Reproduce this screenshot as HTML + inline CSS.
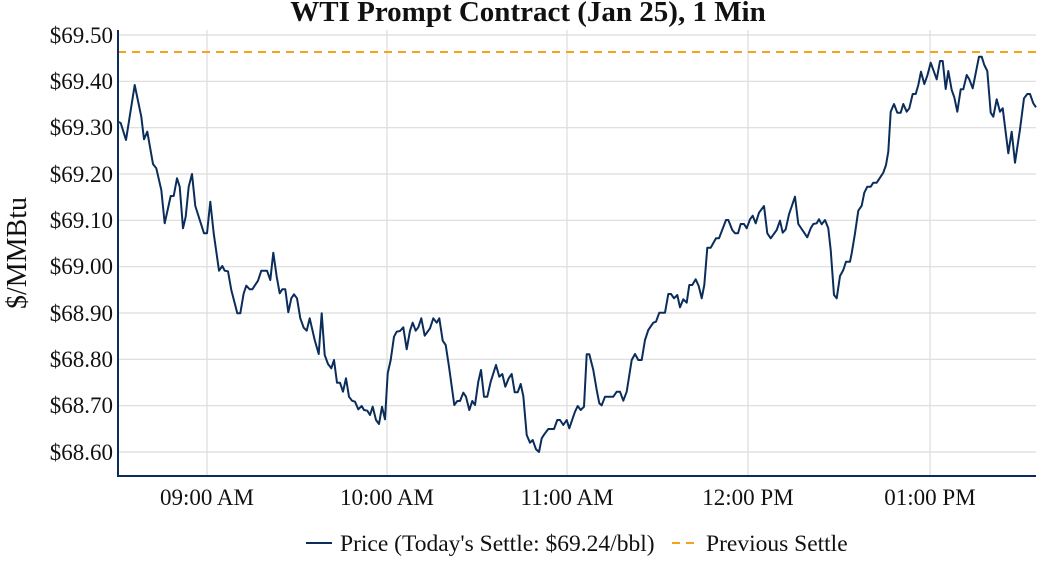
<!DOCTYPE html>
<html><head><meta charset="utf-8"><style>
html,body{margin:0;padding:0;background:#fff;}
svg text{font-family:"Liberation Serif",serif;fill:#111;}
</style></head><body>
<svg width="1056" height="576" viewBox="0 0 1056 576" xmlns="http://www.w3.org/2000/svg">
<text x="528" y="21" font-size="29" font-weight="bold" text-anchor="middle">WTI Prompt Contract (Jan 25), 1 Min</text>
<g stroke="#dcdcdc" stroke-width="1.2">
<line x1="118" x2="1036" y1="35" y2="35"/><line x1="118" x2="1036" y1="81.3" y2="81.3"/>
<line x1="118" x2="1036" y1="127.7" y2="127.7"/><line x1="118" x2="1036" y1="174" y2="174"/>
<line x1="118" x2="1036" y1="220.3" y2="220.3"/><line x1="118" x2="1036" y1="266.7" y2="266.7"/>
<line x1="118" x2="1036" y1="313" y2="313"/><line x1="118" x2="1036" y1="359.3" y2="359.3"/>
<line x1="118" x2="1036" y1="405.7" y2="405.7"/><line x1="118" x2="1036" y1="452" y2="452"/>
<line x1="207" x2="207" y1="30" y2="476"/><line x1="387" x2="387" y1="30" y2="476"/>
<line x1="567" x2="567" y1="30" y2="476"/><line x1="748" x2="748" y1="30" y2="476"/>
<line x1="930" x2="930" y1="30" y2="476"/>
</g>
<g font-size="23" text-anchor="end">
<text x="113" y="43">$69.50</text><text x="113" y="89">$69.40</text><text x="113" y="135">$69.30</text>
<text x="113" y="182">$69.20</text><text x="113" y="228">$69.10</text><text x="113" y="274">$69.00</text>
<text x="113" y="321">$68.90</text><text x="113" y="367">$68.80</text><text x="113" y="413">$68.70</text>
<text x="113" y="460">$68.60</text>
</g>
<text transform="translate(26,253) rotate(-90)" font-size="28" text-anchor="middle">$/MMBtu</text>
<g font-size="23" text-anchor="middle">
<text x="207" y="505">09:00 AM</text><text x="387" y="505">10:00 AM</text><text x="567" y="505">11:00 AM</text>
<text x="748" y="505">12:00 PM</text><text x="930" y="505">01:00 PM</text>
</g>
<line x1="118" x2="1036" y1="52" y2="52" stroke="#f5a31a" stroke-width="2" stroke-dasharray="8,6"/>
<polyline fill="none" stroke="#0b2d5b" stroke-width="2" stroke-linejoin="round" points="
118,121.7 120.7,123 126,140 134.7,85 141.3,116.7 144,139.3 147.3,131.7 153,164 156.3,168.3 161.3,190 164.7,223.3 170.7,196 173.7,196 177,178.3 179.7,186.7 183,228.3 185.7,216.7 188.7,186.7 192,174 195.3,206 204,233.3 207,233.3 210.3,201.7 213.7,233.3 219,270.7 222.3,266 224.7,270.7 228,271.3 231.3,290 237.3,313.3 240.3,313.3 243.7,293.3 246.3,285.7 249.7,289.3 252.3,289.3 258,280.7 261.3,270.7 267,270.7 270.3,280 273.3,252.7 276.7,276.7 279.7,293.3 282.3,289.3 285.3,289.3 288.3,312.3 291.3,298.3 294,294.3 297,298.3 300.3,318.3 303.7,327.7 306.7,330.7 309.7,318.3 314.7,340 318.7,354 321.7,313.3 324.7,355 328,364 331.3,368.3 334,360 337,382.7 340,382.7 343,391.7 346,378.3 349,396.7 352,400.7 355,401.7 358.3,409.3 361.7,406 364,410 367.3,410.7 370,415 372.7,406.7 376,420 379,424 382,406.7 385,419.3 387.7,373.3 390.7,360 394,336.7 396.7,331.7 400,331 403.3,327.3 406.7,349.3 410,330.7 412.7,322.7 415.7,330.7 418.3,327.3 421.3,318.3 424.7,335.7 430,328.3 433.3,318.3 436.7,322.7 439.3,318.3 442.7,340.7 445.7,345 449,366.7 454.3,405 457.3,401 460,401 463.3,392.7 466,396.7 469.3,410 472.3,401 475,405 478.3,381.7 481,370 484,396.7 487.3,396.7 490.7,381.7 496,365 499.3,376.7 502.3,374 505.3,386.7 508.7,378.3 511.7,374 514.7,392.3 517.7,392.3 520.7,384 523.3,396 526.7,435 530,442.7 532.7,440 536,449.3 539,452 541.7,438.3 544.3,434.3 548.3,429 554,429 557.3,420 560,420 563.3,425 566.7,420 569.3,428.3 572.7,418.3 575,411.7 577.7,406 580.7,410 584,406.7 586.7,354.3 589.3,354.3 593.3,370 596.7,390 599.3,403.3 601.7,405.3 605,396.7 613.3,396.7 616.7,391.7 620,391.7 623.3,400.7 626.7,391.7 631.7,360 635,354 638.3,360 641.7,360 645,340 648.3,330 653.3,322.7 656,321.7 659.3,312.7 665,312.7 668.3,294 671,294 674,298.3 677.3,295 680,307.3 683.3,299.3 686.7,302.7 689.3,285 692.3,285 695.7,279.3 698.7,286 701.7,298.3 704.3,285 707.3,247.7 710.7,247.7 716,238.3 719,238.3 726,220 728.3,220 732.3,230 735,233.3 738,233.3 740.7,224 744,224 746.7,228.3 750,219.3 752.7,215.7 755.7,223.3 759,212.7 764,206 767.3,233.3 770.7,238.3 776.7,230 780,220.7 782.7,232.7 785.7,229.3 789,214.3 795,196.7 798.3,224 807.3,237.3 810.7,228.3 813.3,224 816.7,223.3 819,219.3 821.7,224.3 825,220 828.3,228.3 830.7,250 834,295 836.7,298.3 840,276 843.3,270 846,261.7 850,261.7 851.7,253.3 855,233.3 858.3,210.7 861.7,205.7 864.3,192.7 867.3,186.7 870.7,186.7 873.3,182.7 876.7,182.7 880,177.7 883.3,172.7 886,165 888.3,151.7 890.7,111.7 894,104 897.3,112.7 900.7,112.7 903.3,104 906.7,111.7 909.3,108.3 912.7,94 915.7,94 918.3,85 921,71.7 924.3,84 927.3,75.7 930.7,62.7 936.7,79.3 940,61 942.7,61 945.7,89 948.3,71 951.7,90 954.3,97.3 957.3,111.7 960.7,89.3 963.3,89.3 966.7,75 969.3,79.3 972.7,88.3 979,56.7 981.7,56.7 984.3,65 987.3,71 990.7,112.7 993.3,116.7 996.7,99.3 1000,111.7 1002.7,108.3 1008.3,153.3 1011.7,131.7 1015,162.7 1020,129.3 1024,98.3 1027.3,94 1030,94 1033.3,103.3 1036,107.3"/>
<line x1="118" x2="118" y1="30" y2="477" stroke="#0b2d5b" stroke-width="2"/>
<line x1="117" x2="1036" y1="476" y2="476" stroke="#0b2d5b" stroke-width="2"/>
<line x1="306" x2="332" y1="543" y2="543" stroke="#0b2d5b" stroke-width="2"/>
<text x="340" y="551" font-size="23.5">Price (Today's Settle: $69.24/bbl)</text>
<line x1="672" x2="698" y1="543" y2="543" stroke="#f5a31a" stroke-width="2" stroke-dasharray="8,6"/>
<text x="706" y="551" font-size="23.5">Previous Settle</text>
</svg>
</body></html>
